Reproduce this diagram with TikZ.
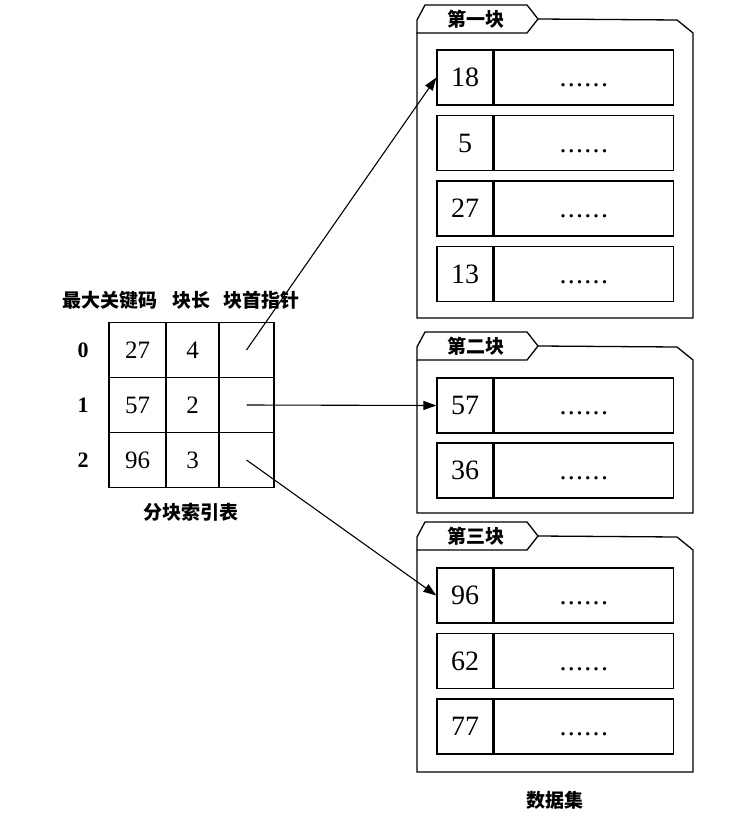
\documentclass[tikz,border=0pt]{standalone}
\usepackage{fontspec}
\setmainfont{Liberation Serif}
\newfontfamily\cjk{Noto Sans CJK SC}
\usetikzlibrary{positioning,arrows.meta}

% one block of the data set: #1 = top of tab, #2 = bottom line
\newcommand{\blkframe}[2]{%
  \draw[blkline] (417,{#1+28}) -- (417,{#1+15}) -- (425,#1) -- (527,#1)
    -- (538,{#1+14}) -- (527,{#1+28}) -- cycle;
  \draw[blkline] (538,{#1+14}) -- (677,{#1+15}) -- (693,{#1+28})
    -- (693,#2) -- (417,#2) -- (417,{#1+28});
}
\newcommand{\recdots}{\vphantom{0}.\kern1.3pt.\kern1.3pt.\kern1.3pt.\kern1.3pt.\kern1.3pt.}

\tikzset{
  keycell/.style={draw, line width=1.3pt, minimum width=56pt, minimum height=55pt,
    inner sep=0pt, font=\fontsize{28}{30}\selectfont},
  datacell/.style={draw, line width=1.3pt, minimum width=179pt, minimum height=55pt,
    inner sep=0pt, font=\fontsize{28}{30}\selectfont},
  idxcell/.style={draw, line width=1.3pt, minimum height=55pt, inner sep=0pt,
    font=\fontsize{25}{27}\selectfont},
  cjklabel/.style={font=\cjk\bfseries\fontsize{19}{22}\selectfont, inner sep=0pt},
  blkline/.style={line width=1.3pt, line join=miter},
  ptrarrow/.style={line width=1.1pt, -{Triangle[length=13pt,width=9pt]}}
}

\begin{document}
\begin{tikzpicture}[x=1pt, y=-1pt]
\useasboundingbox (0,0) rectangle (743,818);

% index table
\node[cjklabel] (hkey) at (110,300) {最大关键码};
\node[cjklabel] (hlen) at (191,300) {块长};
\node[cjklabel] (hptr) at (261,300) {块首指针};
\foreach \k/\n/\r in {27/4/0,57/2/1,96/3/2} {
  \node[font=\bfseries\fontsize{22}{24}\selectfont] (row\r) at (83,{350+55*\r}) {\r};
  \node[idxcell, minimum width=57pt] (idx\r) at (137.5,{350+55*\r}) {\k};
  \node[idxcell, minimum width=53pt] (len\r) at (192.5,{350+55*\r}) {\n};
  \node[idxcell, minimum width=55pt] (ptr\r) at (246.5,{350+55*\r}) {};
}
\node[cjklabel] (tcap) at (191,512) {分块索引表};

% data set
\blkframe{5}{318}
\node[cjklabel] (tab1) at (476,19) {第一块};
\foreach \v/\r in {18/0,5/1,27/2,13/3} {
  \node[keycell] (k\v) at (465,{77.5+65.5*\r}) {\v};
  \node[datacell, right=0pt of k\v] (d\v) {\recdots};
}
\blkframe{332}{513}
\node[cjklabel] (tab2) at (476,346) {第二块};
\foreach \v/\r in {57/0,36/1} {
  \node[keycell] (k\v) at (465,{405.5+65*\r}) {\v};
  \node[datacell, right=0pt of k\v] (d\v) {\recdots};
}
\blkframe{522}{772}
\node[cjklabel] (tab3) at (476,536) {第三块};
\foreach \v/\r in {96/0,62/1,77/2} {
  \node[keycell] (k\v) at (465,{595.5+65.5*\r}) {\v};
  \node[datacell, right=0pt of k\v] (d\v) {\recdots};
}
\node[cjklabel] (dcap) at (555,800) {数据集};

% block pointers
\draw[ptrarrow] (ptr0.center) -- (k18.west);
\draw[ptrarrow] (ptr1.center) -- (k57.west);
\draw[ptrarrow] (ptr2.center) -- (k96.west);
\end{tikzpicture}
\end{document}
